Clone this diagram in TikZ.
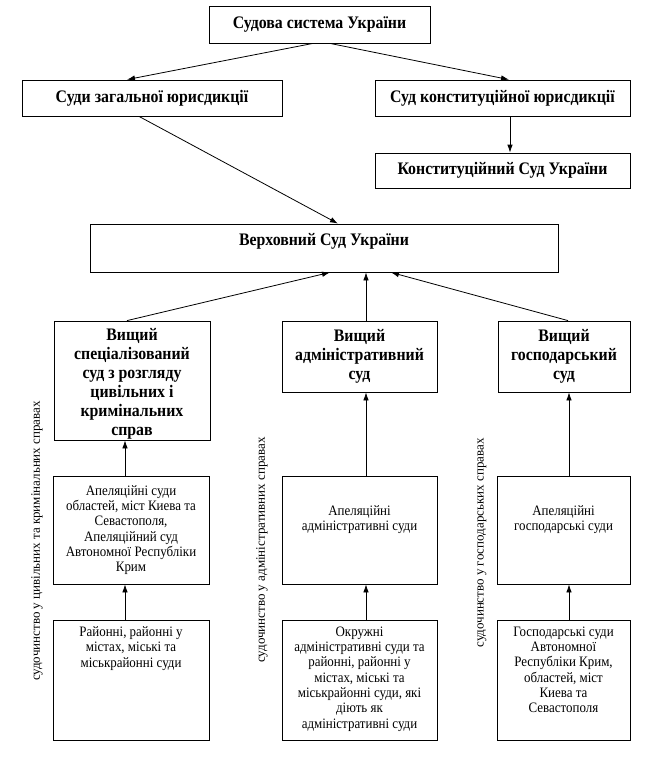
\documentclass[tikz,border=0pt]{standalone}
\usepackage{fontspec}
\setmainfont{Liberation Serif}[FakeStretch=0.9]
\newfontfamily\labelfont{Liberation Serif}
\usetikzlibrary{arrows.meta}

\tikzset{
  court/.style={draw, line width=0.8pt, inner sep=0pt, align=center,
    font=\fontsize{17.6}{19}\selectfont\bfseries},
  local/.style={draw, line width=0.8pt, inner sep=0pt, align=center,
    font=\fontsize{14.4}{15.3}\selectfont},
  boxtext/.style={inner sep=0pt, align=center, anchor=north},
  link/.style={line width=0.8pt, -{Latex[length=8pt,width=5.5pt]}},
  branch/.style={rotate=90, inner sep=0pt, font=\labelfont\fontsize{13}{15}\selectfont}
}

\begin{document}
\begin{tikzpicture}[x=1pt, y=-1pt]
    \useasboundingbox (0,0) rectangle (662,771);

    % Top level
    \node[court, minimum width=221pt, minimum height=37pt] (sys) at (319.5, 24.5) {Судова система України};
    \node[court, minimum width=260pt, minimum height=36pt] (zag) at (152, 98) {Суди загальної юрисдикції};
    \node[court, minimum width=255pt, minimum height=36pt] (konst) at (502.5, 98) {Суд конституційної юрисдикції};
    \node[court, minimum width=255pt, minimum height=35pt] (ks) at (502.5, 170.5) {Конституційний Суд України};

    % Supreme court
    \node[court, minimum width=468pt, minimum height=48pt] (vs) at (324, 248) {};
    \node[boxtext, font=\fontsize{17.6}{19}\selectfont\bfseries] (vs-t) at ([yshift=-10pt]vs.north) {Верховний Суд України};

    % Higher courts
    \node[court, minimum width=156pt, minimum height=119pt] (spec) at (132, 380.5) {};
    \node[boxtext, font=\fontsize{17.6}{19}\selectfont\bfseries] (spec-t) at ([yshift=-8pt]spec.north)
        {Вищий\\ спеціалізований\\ суд з розгляду\\ цивільних і\\ кримінальних\\ справ};
    \node[court, minimum width=155pt, minimum height=71pt] (adm) at (359.5, 356.5)
        {Вищий\\ адміністративний\\ суд};
    \node[court, minimum width=132pt, minimum height=71pt] (gosp) at (564, 356.5)
        {Вищий\\ господарський\\ суд};

    % Appeal courts
    \node[local, minimum width=156pt, minimum height=108pt] (ap1) at (131, 530)
        {Апеляційні суди\\ областей, міст Киева та\\ Севастополя,\\ Апеляційний суд\\ Автономної Республіки\\ Крим};
    \node[local, minimum width=155pt, minimum height=108pt] (ap2) at (359.5, 530) {};
    \node[boxtext, font=\fontsize{14.4}{15.3}\selectfont] (ap2-t) at ([yshift=-30pt]ap2.north)
        {Апеляційні\\ адміністративні суди};
    \node[local, minimum width=133pt, minimum height=108pt] (ap3) at (563.5, 530) {};
    \node[boxtext, font=\fontsize{14.4}{15.3}\selectfont] (ap3-t) at ([yshift=-30pt]ap3.north)
        {Апеляційні\\ господарські суди};

    % Local courts
    \node[local, minimum width=156pt, minimum height=120pt] (r1) at (131, 680) {};
    \node[boxtext, font=\fontsize{14.4}{15.3}\selectfont] (r1-t) at ([yshift=-7pt]r1.north)
        {Районні, районні у\\ містах, міські та\\ міськрайонні суди};
    \node[local, minimum width=155pt, minimum height=120pt] (r2) at (359.5, 680) {};
    \node[boxtext, font=\fontsize{14.4}{15.3}\selectfont] (r2-t) at ([yshift=-7pt]r2.north)
        {Окружні\\ адміністративні суди та\\ районні, районні у\\ містах, міські та\\ міськрайонні суди, які\\ діють як\\ адміністративні суди};
    \node[local, minimum width=133pt, minimum height=120pt] (r3) at (563.5, 680) {};
    \node[boxtext, font=\fontsize{14.4}{15.3}\selectfont] (r3-t) at ([yshift=-7pt]r3.north)
        {Господарські суди\\ Автономної\\ Республіки Крим,\\ областей, міст\\ Киева та\\ Севастополя};

    % Branch labels
    \node[branch] (b1) at (37, 541) {судочинство у цивільних та кримінальних справах};
    \node[branch] (b2) at (262, 550) {судочинство у адміністративних справах};
    \node[branch] (b3) at (482, 543) {судочинство у господарських справах};

    % Arrows
    \draw[link] ([xshift=-6.5pt]sys.south) -- ([xshift=-25pt]zag.north);
    \draw[link] ([xshift=10.5pt]sys.south) -- ([xshift=6.5pt]konst.north);
    \draw[link] ([xshift=7.5pt]konst.south) -- ([xshift=7.5pt]ks.north);
    \draw[link] ([xshift=-13pt]zag.south) -- ([xshift=14pt]vs.north);

    \draw[link] ([xshift=-5pt]spec.north) -- ([xshift=6pt]vs.south);
    \draw[link] ([xshift=6.5pt]adm.north) -- ([xshift=42pt]vs.south);
    \draw[link] ([xshift=4pt]gosp.north) -- ([xshift=67pt]vs.south);

    \draw[link] ([xshift=-6pt]ap1.north) -- ([xshift=-7pt]spec.south);
    \draw[link] ([xshift=6.5pt]ap2.north) -- ([xshift=6.5pt]adm.south);
    \draw[link] ([xshift=5.5pt]ap3.north) -- ([xshift=5pt]gosp.south);

    \draw[link] ([xshift=-6pt]r1.north) -- ([xshift=-6pt]ap1.south);
    \draw[link] ([xshift=6.5pt]r2.north) -- ([xshift=6.5pt]ap2.south);
    \draw[link] ([xshift=5.5pt]r3.north) -- ([xshift=5.5pt]ap3.south);
\end{tikzpicture}
\end{document}
